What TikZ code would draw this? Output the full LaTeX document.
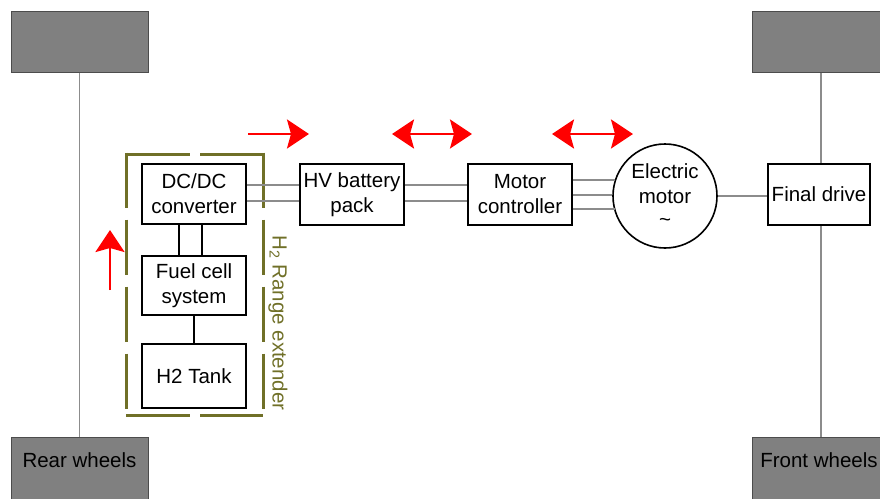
\documentclass[tikz,border=0pt]{standalone}
\usepackage{fontspec}
\setmainfont{Liberation Sans}
\usetikzlibrary{arrows.meta,calc}
\definecolor{olivebox}{RGB}{112,112,40}
\definecolor{wheelgray}{RGB}{128,128,128}
\definecolor{connGray}{RGB}{140,140,140}
\tikzset{
  txt/.style={font=\fontsize{20.5}{25}\selectfont},
  blk/.style={draw=black,line width=1.6pt,fill=white,minimum width=104pt,minimum height=60pt,inner sep=0pt,align=center,txt},
  wheel/.style={draw=black!70,line width=1pt,fill=wheelgray,inner sep=0pt},
  conn/.style={draw=connGray,line width=1.1pt},
  link/.style={draw=black,line width=1.6pt},
  redhead/.tip={Stealth[length=22pt,width=29pt,inset=4pt]},
  flow/.style={draw=red,line width=2.4pt,-redhead},
  flowb/.style={draw=red,line width=2.4pt,redhead-redhead},
  rangebox/.style={draw=olivebox,line width=3pt}
}
\begin{document}
\begin{tikzpicture}[x=1pt,y=-1pt]
\useasboundingbox (0,0) rectangle (880,498);
% wheels
\node[wheel,minimum width=137pt,minimum height=61pt] (tl) at (79.5,41.5) {};
\node[wheel,minimum width=138pt,minimum height=61pt] (tr) at (821,41.5) {};
\node[wheel,minimum width=137pt,minimum height=62pt,anchor=north] (rw) at (79.5,437) {};
\node[wheel,minimum width=138pt,minimum height=62pt,anchor=north] (fw) at (821,437) {};
\node[txt] (rwt) at (79.5,460) {Rear wheels};
\node[txt] (fwt) at (819,460) {Front wheels};
\draw[conn] (tl.south) -- (rw.north);
\draw[conn] (tr.south) -- (fw.north);
% range extender frame
\draw[rangebox,dash pattern=on 64pt off 10pt] (126,154) -- (263,154);
\draw[rangebox,dash pattern=on 64pt off 10pt] (126,415) -- (263,415);
\draw[rangebox,dash pattern=on 55pt off 12pt] (126,152.5) -- (126,416.5);
\draw[rangebox,dash pattern=on 55pt off 12pt] (263,152.5) -- (263,416.5);
\node[text=olivebox,rotate=-90,txt] (rx) at (278,323) {H\textsubscript{2} Range extender};
% blocks
\node[blk] (dc) at (194,194) {DC/DC\\converter};
\node[blk,minimum height=59pt] (fc) at (194,285.5) {Fuel cell\\system};
\node[blk,minimum height=64pt] (tank) at (194,376) {H2 Tank};
\node[blk,minimum height=61pt] (hv) at (352,194.5) {HV battery\\pack};
\node[blk,minimum height=61pt] (mc) at (520,194.5) {Motor\\controller};
\node[blk,circle,minimum width=0pt,minimum height=0pt,minimum size=104pt] (em) at (665,196) {Electric\\motor\\\raisebox{2pt}{\textasciitilde}};
% connectors
\draw[link] (dc.south -| 179,0) -- (fc.north -| 179,0);
\draw[link] (dc.south -| 202,0) -- (fc.north -| 202,0);
\draw[link] (fc.south) -- (tank.north);
\draw[conn] (dc.east |- 0,185) -- (hv.west |- 0,185);
\draw[conn] (dc.east |- 0,201) -- (hv.west |- 0,201);
\draw[conn] (hv.east |- 0,185) -- (mc.west |- 0,185);
\draw[conn] (hv.east |- 0,201) -- (mc.west |- 0,201);
\draw[conn] (mc.east |- 0,180) -- ($(em.center)+(-50.5,-16)$) coordinate (e1);
\draw[conn] (mc.east |- 0,195) -- (em.west |- 0,195);
\draw[conn] (mc.east |- 0,209) -- ($(em.center)+(-50,13)$) coordinate (e3);
\node[blk,minimum width=102pt,minimum height=61pt] (fd) at (819,194.5) {Final drive};
\draw[conn] (em.east |- 0,196) -- (fd.west |- 0,196);
% flow arrows
\coordinate (a1s) at (248,134); \coordinate (a1e) at (309,134);
\coordinate (a2s) at (392,134); \coordinate (a2e) at (472,134);
\coordinate (a3s) at (552,134); \coordinate (a3e) at (633,134);
\coordinate (a4s) at (110,290); \coordinate (a4e) at (110,230);
\draw[flow] (a1s) -- (a1e);
\draw[flowb] (a2s) -- (a2e);
\draw[flowb] (a3s) -- (a3e);
\draw[flow] (a4s) -- (a4e);
\end{tikzpicture}
\end{document}
